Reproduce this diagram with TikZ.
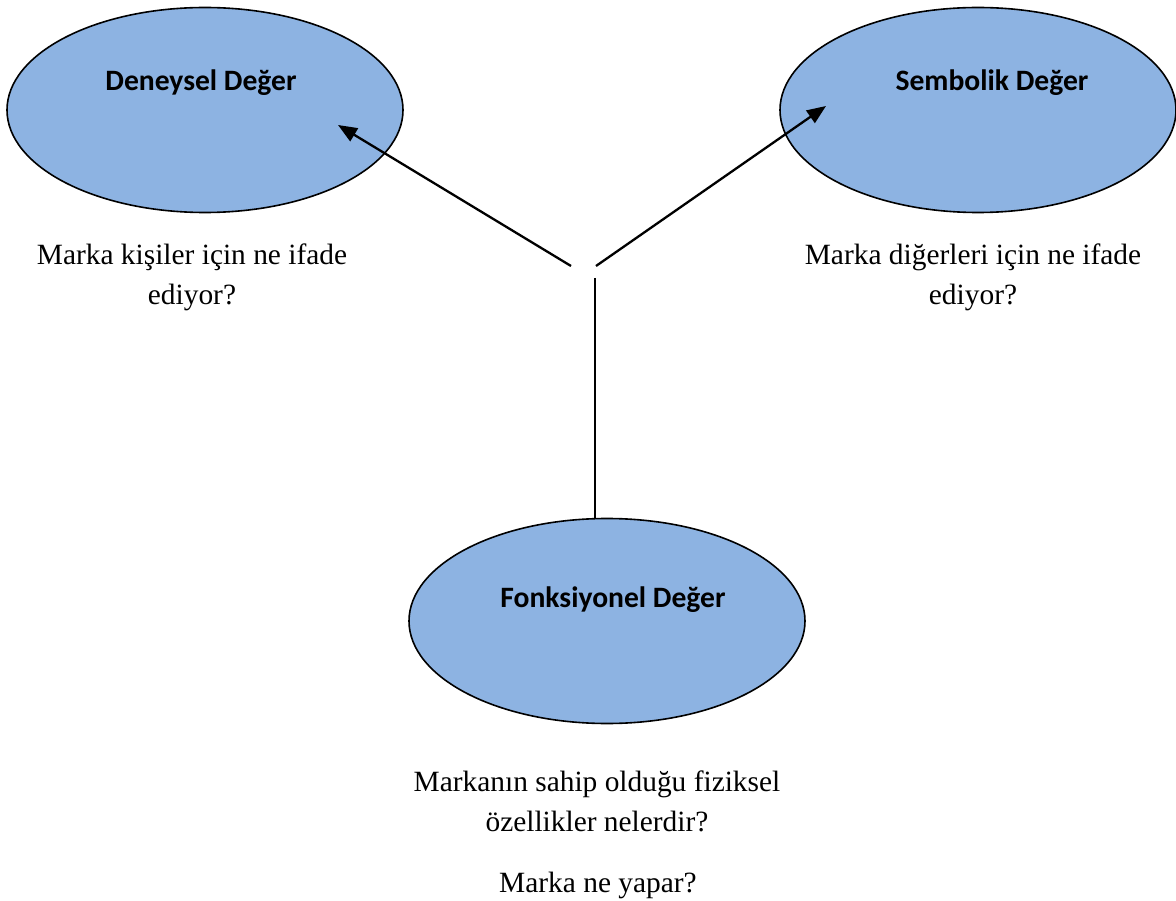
\documentclass[tikz,border=0pt]{standalone}
\usepackage{fontspec}
\setmainfont{Liberation Serif}
\newfontfamily\labelfont{Carlito}
\usetikzlibrary{shapes.geometric,arrows.meta}
\definecolor{ovalfill}{RGB}{141,179,226}
\tikzset{
  valueoval/.style={ellipse, draw=black, line width=1.6pt, fill=ovalfill,
    minimum width=396pt, minimum height=205pt, inner sep=0pt},
  ovaltitle/.style={font=\labelfont\bfseries\fontsize{29.6}{34}\selectfont, inner sep=0pt, anchor=base},
  % anchor=base sits on the baseline of the last line
  question/.style={font=\fontsize{29.4}{40}\selectfont, align=center, inner sep=0pt, anchor=base},
  link/.style={line width=2.3pt, draw=black},
  arrowlink/.style={link, -{Triangle[length=19pt, width=15pt]}}
}
\begin{document}
\begin{tikzpicture}[x=1pt, y=-1pt]
  \useasboundingbox (0,0) rectangle (1176,901);

  % the three value ovals
  \node[valueoval] (exp) at (205,110) {};
  \node[valueoval] (sym) at (978,110) {};
  \node[valueoval] (fun) at (607,621) {};

  % oval titles
  \node[ovaltitle] (expT) at (201,91) {Deneysel Değer};
  \node[ovaltitle] (symT) at (992,91) {Sembolik Değer};
  \node[ovaltitle] (funT) at (613,607) {Fonksiyonel Değer};

  % guiding questions
  \node[question] (expQ) at (192,305) {Marka kişiler için ne ifade\\ediyor?};
  \node[question] (symQ) at (973,305) {Marka diğerleri için ne ifade\\ediyor?};
  \node[question] (funQ) at (597,831) {Markanın sahip olduğu fiziksel\\özellikler nelerdir?};
  \node[question] (funQ2) at (598,892) {Marka ne yapar?};

  % hub points and arrow targets
  \coordinate (hubL) at (571,266);
  \coordinate (hubR) at (596,266);
  \coordinate (hubB) at (595,278);
  \coordinate (tipL) at (338,125);
  \coordinate (tipR) at (826,106);

  \draw[arrowlink] (hubL) -- (tipL);
  \draw[arrowlink] (hubR) -- (tipR);
  \draw[link] (hubB) -- (fun.north -| hubB);
\end{tikzpicture}
\end{document}
